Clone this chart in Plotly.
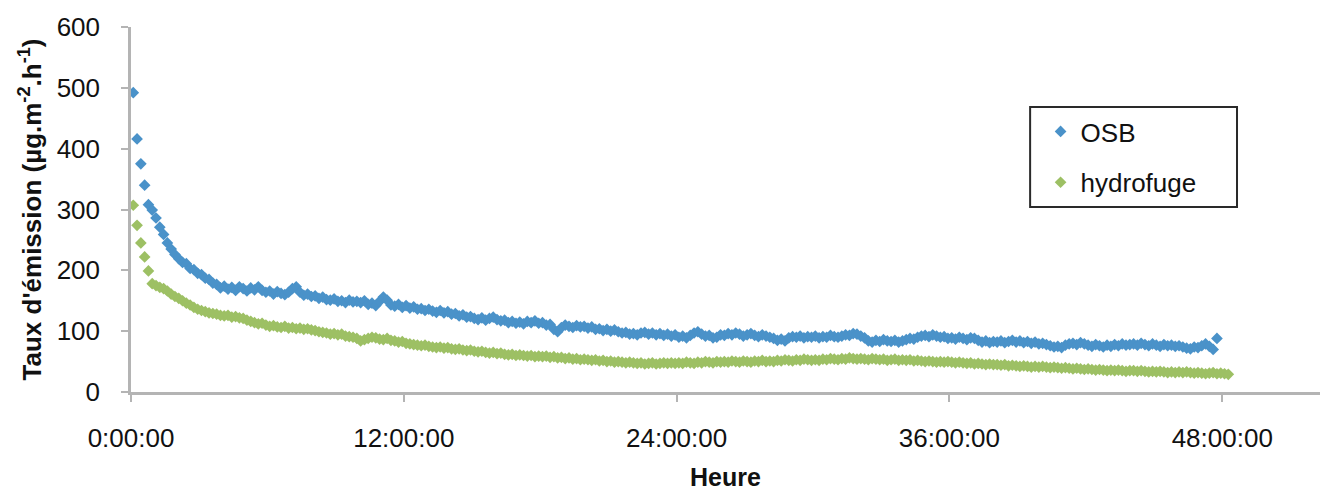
import numpy as np
import plotly.graph_objects as go

# Emission-rate readings, one every 10 minutes (µg.m-2.h-1)
first_reading_h = 0.1
reading_interval_min = 10

osb = [
    492, 416, 375, 340, 308, 299, 286, 271, 259, 245, 235, 226,
    219, 213, 211, 203, 201, 195, 193, 187, 185, 179, 177, 171,
    174, 169, 172, 167, 173, 170, 166, 171, 168, 173, 167, 164,
    166, 161, 165, 162, 160, 164, 170, 173, 164, 159, 161, 157,
    158, 154, 156, 152, 151, 153, 149, 150, 147, 151, 148, 149,
    147, 150, 144, 146, 142, 149, 156, 151, 143, 141, 144, 139,
    142, 138, 140, 136, 137, 134, 136, 133, 131, 134, 130, 132,
    128, 129, 125, 127, 123, 124, 121, 119, 122, 118, 121, 123,
    119, 117, 118, 114, 116, 113, 115, 112, 116, 114, 117, 113,
    114, 110, 111, 103, 99, 106, 110, 108, 106, 109, 107, 108,
    105, 107, 103, 104, 101, 103, 100, 102, 99, 97, 98, 95,
    96, 94, 97, 98, 95, 97, 94, 96, 93, 95, 92, 94,
    90, 92, 89, 93, 97, 99, 95, 92, 93, 89, 90, 94,
    93, 96, 94, 97, 95, 92, 94, 96, 93, 91, 94, 92,
    90, 88, 85, 87, 84, 89, 91, 90, 92, 89, 91, 90,
    92, 89, 91, 90, 93, 91, 90, 92, 94, 93, 96, 95,
    92, 89, 84, 82, 85, 83, 86, 84, 83, 85, 82, 84,
    86, 88, 87, 90, 92, 93, 91, 94, 92, 90, 91, 88,
    89, 87, 90, 88, 86, 89, 88, 85, 82, 84, 81, 83,
    82, 84, 81, 83, 85, 82, 84, 81, 83, 80, 82, 79,
    80, 78, 76, 74, 75, 73, 77, 79, 80, 78, 81, 79,
    77, 75, 78, 76, 74, 77, 75, 78, 76, 79, 77, 78,
    79, 77, 80, 78, 76, 79, 77, 75, 78, 76, 77, 75,
    76, 74, 72, 71, 74, 73, 76, 79, 75, 70, 88,
]

hydrofuge = [
    307, 274, 245, 222, 199, 178, 175, 172, 170, 166, 161, 157,
    154, 150, 146, 143, 139, 136, 134, 132, 130, 129, 128, 126,
    125, 126, 123, 124, 122, 121, 118, 116, 114, 112, 113, 110,
    108, 109, 107, 106, 108, 105, 106, 104, 105, 103, 104, 102,
    101, 99, 98, 97, 95, 96, 94, 95, 92, 91, 90, 88,
    84, 86, 88, 90, 89, 87, 86, 88, 85, 84, 82, 83,
    80, 79, 78, 77, 76, 77, 75, 74, 73, 74, 72, 73,
    71, 70, 71, 69, 68, 69, 67, 66, 67, 65, 64, 65,
    63, 64, 62, 61, 62, 60, 61, 60, 59, 60, 58, 59,
    58, 59, 57, 58, 56, 57, 55, 56, 54, 55, 53, 54,
    53, 52, 53, 51, 52, 50, 51, 49, 50, 49, 48, 49,
    48, 47, 48, 46, 47, 48, 46, 47, 48, 47, 48, 47,
    48, 47, 49, 48, 47, 49, 48, 50, 49, 48, 50, 49,
    50, 49, 51, 50, 49, 51, 50, 49, 51, 50, 52, 50,
    51, 50, 52, 51, 53, 52, 51, 53, 52, 54, 53, 52,
    53, 52, 54, 53, 55, 54, 53, 55, 54, 56, 55, 54,
    55, 54, 53, 55, 54, 53, 54, 52, 53, 54, 52, 53,
    52, 53, 51, 52, 51, 50, 51, 50, 49, 50, 49, 50,
    49, 48, 49, 48, 47, 48, 46, 47, 46, 45, 46, 45,
    45, 44, 45, 43, 44, 43, 42, 43, 42, 41, 42, 41,
    42, 41, 40, 41, 40, 39, 40, 39, 38, 39, 38, 37,
    38, 37, 36, 37, 36, 35, 36, 35, 36, 35, 34, 35,
    35, 34, 35, 34, 33, 34, 33, 34, 33, 32, 33, 32,
    33, 32, 33, 32, 31, 32, 31, 30, 31, 32, 30, 31, 30, 29,
]

hour_ticks = [0, 12, 24, 36, 48]
hour_labels = ["0:00:00", "12:00:00", "24:00:00", "36:00:00", "48:00:00"]


def reading_hours(n):
    return first_reading_h + np.arange(n) * reading_interval_min / 60.0


FONT = "Liberation Sans"
TEXT = "#111111"
AXIS = "#b4b4b4"

fig = go.Figure()
fig.add_trace(go.Scatter(
    x=reading_hours(len(osb)), y=osb, name="OSB", mode="markers",
    legendgroup="osb",
    marker=dict(symbol="diamond", size=9, color="#4a92c9"),
))
fig.add_trace(go.Scatter(
    x=reading_hours(len(hydrofuge)), y=hydrofuge, name="hydrofuge", mode="markers",
    legendgroup="hydro",
    marker=dict(symbol="diamond", size=9, color="#9dc064"),
))

fig.update_layout(
    width=1323, height=491,
    margin=dict(l=131, r=3, t=27, b=99),
    paper_bgcolor="white", plot_bgcolor="white",
    font=dict(family=FONT, color=TEXT, size=26),
    showlegend=True,
    legend=dict(
        x=0.765, y=0.778, xanchor="left", yanchor="top",
        bgcolor="rgba(0,0,0,0)", borderwidth=0,
        font=dict(family=FONT, size=26, color=TEXT),
        tracegroupgap=14,
    ),
    shapes=[dict(
        type="rect", xref="paper", yref="paper",
        x0=0.7562, x1=0.9302, y0=0.5068, y1=0.7808,
        line=dict(color="#2a2a2a", width=2), fillcolor="rgba(0,0,0,0)",
    )],
)

fig.update_xaxes(
    range=[0, 52.3], tickvals=hour_ticks, ticktext=hour_labels,
    showgrid=False, zeroline=False,
    showline=True, linecolor=AXIS, linewidth=2.5,
    ticks="outside", ticklen=7, tickwidth=2, tickcolor=AXIS,
    ticklabelstandoff=14,
    tickfont=dict(family=FONT, size=26, color=TEXT),
    title=dict(text="<b>Heure</b>", font=dict(family=FONT, size=25, color=TEXT), standoff=18),
)
fig.update_yaxes(
    range=[0, 600], tickvals=[0, 100, 200, 300, 400, 500, 600],
    showgrid=False, zeroline=False,
    showline=True, linecolor=AXIS, linewidth=2.5,
    ticks="outside", ticklen=7, tickwidth=2, tickcolor=AXIS,
    ticklabelstandoff=16,
    tickfont=dict(family=FONT, size=26, color=TEXT),
    title=dict(
        text="<b>Taux d'émission (µg.m<sup>-2</sup>.h<sup>-1</sup>)</b>",
        font=dict(family=FONT, size=26, color=TEXT), standoff=8,
    ),
)

fig.write_html("out.html")
